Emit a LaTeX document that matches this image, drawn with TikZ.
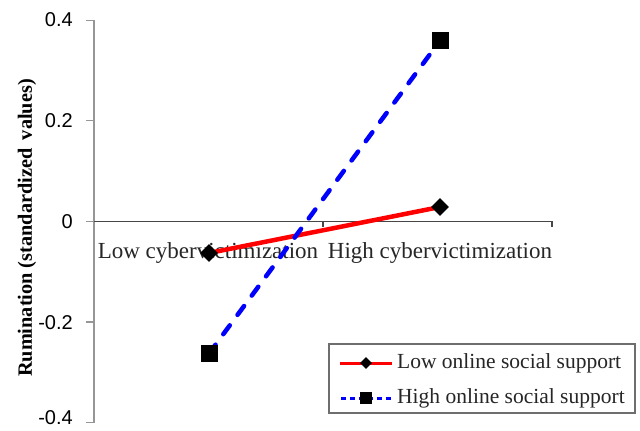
\documentclass[tikz,border=0pt]{standalone}
\usepackage{fontspec}
\setmainfont{Liberation Serif}
\newfontfamily\arialf{Liberation Sans}
\usetikzlibrary{shapes.geometric}
\definecolor{axisgray}{RGB}{150,150,150}
\definecolor{xaxisgray}{RGB}{70,70,70}
\definecolor{legendgray}{RGB}{110,110,110}
\begin{document}
\begin{tikzpicture}[x=1pt,y=-1pt,
  yaxisline/.style={draw=axisgray,line width=1.3pt},
  xaxisline/.style={draw=xaxisgray,line width=1.1pt},
  ticklab/.style={anchor=east,inner sep=0pt,font=\arialf\fontsize{20}{20}\selectfont},
  catlab/.style={anchor=base,inner sep=0pt,text=black!85,font=\fontsize{23}{23}\selectfont},
  leglab/.style={anchor=base west,inner sep=0pt,text=black!85,font=\fontsize{21.5}{21.5}\selectfont},
  lowline/.style={draw=red,line width=4.5pt},
  highline/.style={draw=blue,line width=4.5pt,line cap=round,dash pattern=on 11pt off 13pt},
  diam/.style={diamond,fill=black,inner sep=0pt,minimum width=18pt,minimum height=18pt},
  sq/.style={rectangle,fill=black,inner sep=0pt,minimum size=17pt},
  smalldiam/.style={diamond,fill=black,inner sep=0pt,minimum width=12pt,minimum height=12pt},
  smallsq/.style={rectangle,fill=black,inner sep=0pt,minimum size=12pt}]
\useasboundingbox (0,0) rectangle (640,431);
% y axis
\coordinate (ytop) at (94,20.3);
\coordinate (ybot) at (94,422.5);
\draw[yaxisline] (ytop) -- (ybot);
\foreach \yy/\ly/\lab in {20.3/20/0.4,120.8/121/0.2,221.3/221.5/0,322/323/-0.2,422.5/418/-0.4}{
  \draw[yaxisline] (86,\yy) -- (94,\yy);
  \node[ticklab] at (73,\ly) {\lab};
}
% x axis
\coordinate (xl) at (94,221.3);
\coordinate (xr) at (552,221.3);
\draw[xaxisline] (xl) -- (xr);
\draw[xaxisline] (323,221.3) -- (323,227);
\draw[xaxisline] (552,221.3) -- (552,227);
\node[catlab] (catlow) at (208,258.5) {Low cybervictimization};
\node[catlab] (cathigh) at (440,258.5) {High cybervictimization};
% y label
\node[rotate=90,inner sep=0pt,font=\bfseries\fontsize{20.3}{20.3}\selectfont] (ylab) at (27,228) {Rumination (standardized\, values)};
% data
\coordinate (L1) at (209,253);
\coordinate (L2) at (440,207);
\coordinate (H1) at (209,353.5);
\coordinate (H2) at (440.5,40);
\draw[lowline] (L1) -- (L2);
\draw[highline] (H1) -- (H2);
\node[diam] (mL1) at (L1) {};
\node[diam] (mL2) at (L2) {};
\node[sq] (mH1) at (H1) {};
\node[sq] (mH2) at (H2) {};
% legend
\draw[draw=legendgray,line width=1.2pt,fill=white] (329,344) rectangle (635,413);
\coordinate (la) at (340,363);
\coordinate (lb) at (392,363);
\draw[draw=red,line width=3pt] (la) -- (lb);
\node[smalldiam] (lm1) at (366,363) {};
\node[leglab] (lt1) at (397,368.5) {Low online social support};
\coordinate (ha) at (341,398);
\coordinate (hb) at (392,398);
\draw[draw=blue,line width=3pt,dash pattern=on 5pt off 4pt] (ha) -- (hb);
\node[smallsq] (lm2) at (366,398) {};
\node[leglab] (lt2) at (397,403.5) {High online social support};
\end{tikzpicture}
\end{document}
